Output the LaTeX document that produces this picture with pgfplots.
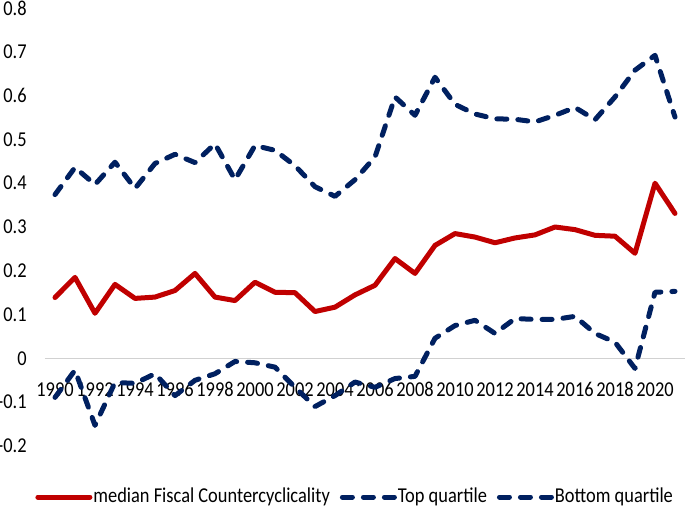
\documentclass[border=0pt]{standalone}
\usepackage{fontspec}
\setmainfont{Carlito}
\usepackage{pgfplots}
\usepackage{pgfplotstable}
\pgfplotsset{compat=1.18}
\usepackage{graphicx}
\definecolor{cred}{HTML}{C00000}
\definecolor{cnavy}{HTML}{002060}
\newcommand\vs[1]{\scalebox{1}[1.15]{#1}}
\newcommand\lfont{\fontsize{9.2}{11}\selectfont}

\pgfplotstableread{
year med top bot
1990 0.139 0.374 -0.089
1991 0.185 0.436 -0.027
1992 0.103 0.397 -0.153
1993 0.169 0.448 -0.055
1994 0.137 0.388 -0.057
1995 0.140 0.445 -0.035
1996 0.155 0.466 -0.085
1997 0.194 0.447 -0.050
1998 0.140 0.490 -0.035
1999 0.132 0.408 -0.007
2000 0.174 0.486 -0.010
2001 0.151 0.475 -0.020
2002 0.150 0.440 -0.066
2003 0.107 0.392 -0.110
2004 0.117 0.370 -0.085
2005 0.145 0.408 -0.054
2006 0.167 0.460 -0.066
2007 0.228 0.597 -0.046
2008 0.194 0.555 -0.041
2009 0.258 0.642 0.046
2010 0.285 0.580 0.075
2011 0.277 0.558 0.087
2012 0.264 0.547 0.057
2013 0.275 0.546 0.091
2014 0.282 0.540 0.089
2015 0.300 0.555 0.089
2016 0.294 0.573 0.096
2017 0.281 0.545 0.057
2018 0.279 0.597 0.037
2019 0.240 0.658 -0.023
2020 0.400 0.692 0.151
2021 0.331 0.551 0.153
}\data

\begin{document}
\begin{tikzpicture}
\begin{axis}[name=ax, scale only axis, width=320pt, height=219pt,
  xmin=1989.5, xmax=2021.5, ymin=-0.2, ymax=0.8,
  axis line style={draw=none}, tick style={draw=none}, major tick length=0pt,
  xtick={1990,1992,1994,1996,1998,2000,2002,2004,2006,2008,2010,2012,2014,2016,2018,2020},
  xticklabels={\vs{1990},\vs{1992},\vs{1994},\vs{1996},\vs{1998},\vs{2000},\vs{2002},\vs{2004},\vs{2006},\vs{2008},\vs{2010},\vs{2012},\vs{2014},\vs{2016},\vs{2018},\vs{2020}},
  ytick={-0.2,-0.1,0,0.1,0.2,0.3,0.4,0.5,0.6,0.7,0.8},
  yticklabels={\vs{-0.2},\vs{-0.1},\vs{0},\vs{0.1},\vs{0.2},\vs{0.3},\vs{0.4},\vs{0.5},\vs{0.6},\vs{0.7},\vs{0.8}},
  xticklabel style={font=\lfont, inner sep=0pt, anchor=north, yshift=32pt},
  yticklabel style={font=\lfont, inner sep=0pt, anchor=east, xshift=-9pt},
  extra y ticks={0}, extra y tick labels={},
  extra y tick style={grid=major, major grid style={draw=black!18, line width=0.8pt}},
  legend style={at={(rel axis cs:0,0)}, anchor=west, xshift=-5pt, yshift=-25.5pt,
    draw=none, fill=none, inner sep=0pt, font=\lfont, nodes={inner sep=0pt},
    /tikz/every odd column/.append style={column sep=0.5pt},
    /tikz/every even column/.append style={column sep=5pt}},
  legend columns=3, legend cell align=left,
  legend image code/.code={\draw[#1] (0pt,0pt) -- (26pt,0pt);},
]
\addplot[cred, line width=2.5pt, line join=round, line cap=round] table[x=year, y=med] {\data};
\addlegendentry{\vs{median Fiscal Countercyclicality}}
\addplot[cnavy, line width=2.5pt, line join=round, line cap=round, dash pattern=on 5pt off 5.5pt] table[x=year, y=top] {\data};
\addlegendentry{\vs{Top quartile}}
\addplot[cnavy, line width=2.5pt, line join=round, line cap=round, dash pattern=on 5pt off 5.5pt] table[x=year, y=bot] {\data};
\addlegendentry{\vs{Bottom quartile}}
\end{axis}
\pgfresetboundingbox
\path ([xshift=-22.5pt,yshift=-31pt]ax.south west) rectangle ([yshift=4pt]ax.north east);
\end{tikzpicture}
\end{document}
